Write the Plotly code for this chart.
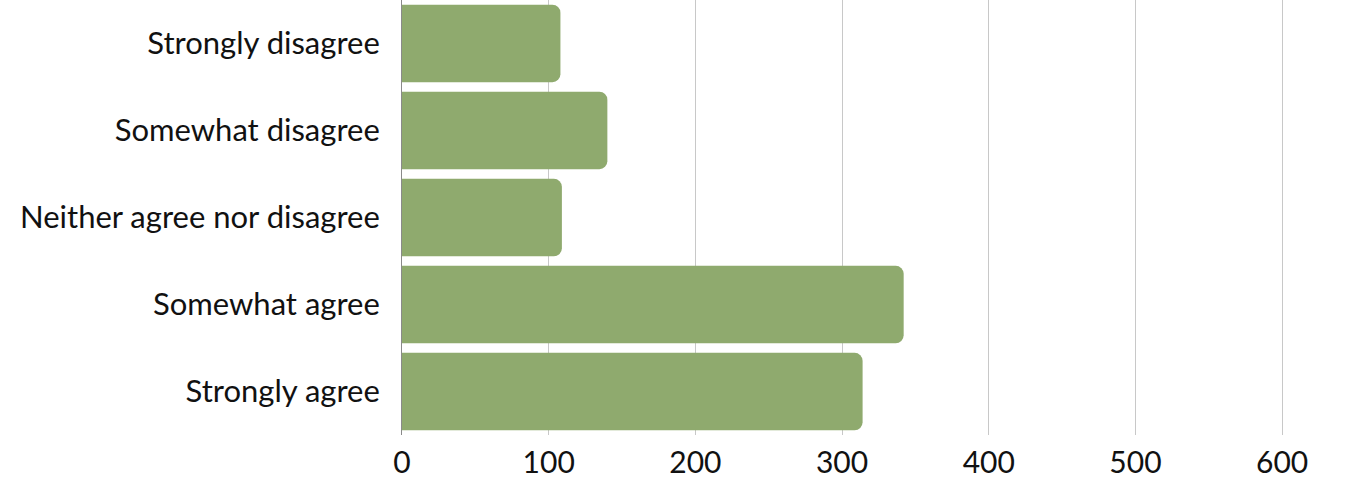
import plotly.graph_objects as go

categories = ["Strongly agree", "Somewhat agree", "Neither agree nor disagree",
              "Somewhat disagree", "Strongly disagree"]
values = [314, 342, 109, 140, 108]
tick_vals = [0, 100, 200, 300, 400, 500, 600]

fig = go.Figure(go.Bar(
    x=values, y=categories, orientation="h",
    marker=dict(color="#8faa6e", cornerradius=8, line=dict(width=0)),
))

fig.update_layout(
    width=1354, height=496,
    margin=dict(l=402, r=0, t=0, b=61, pad=0),
    paper_bgcolor="white", plot_bgcolor="white",
    bargap=0.11,
    font=dict(family="Lato, Nunito, sans-serif", size=30, color="#111111"),
    showlegend=False,
)
fig.update_xaxes(range=[0, 649], tickvals=tick_vals, showgrid=True,
                 gridcolor="#c8c8c8", gridwidth=1, zeroline=False,
                 showline=False, ticks="outside", ticklen=1,
                 tickcolor="rgba(0,0,0,0)", tickfont=dict(size=30))
fig.update_yaxes(showline=True, linecolor="#8a8a8a", linewidth=1,
                 ticks="outside", ticklen=15, tickcolor="rgba(0,0,0,0)",
                 showgrid=False, tickfont=dict(size=31))

fig.write_html("out.html", config={"displayModeBar": False},
               post_script="document.body.style.margin='0';document.body.style.padding='0';")
